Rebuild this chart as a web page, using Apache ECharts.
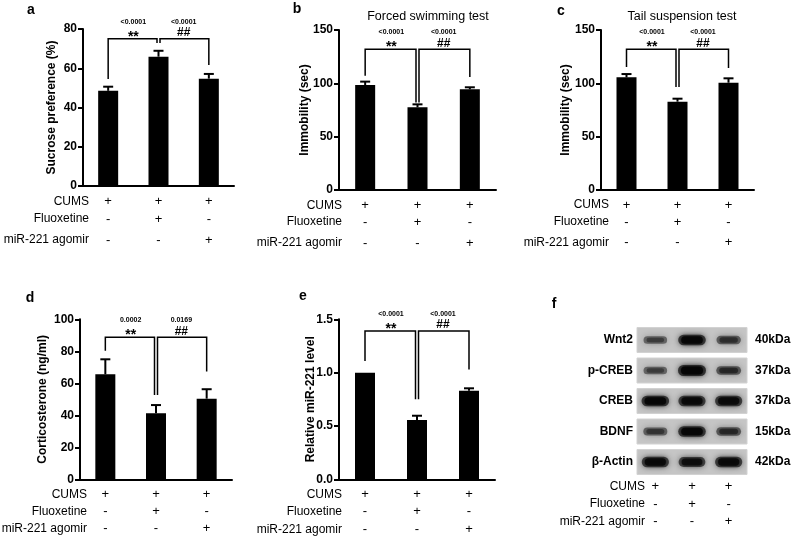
<!DOCTYPE html>
<html><head><meta charset="utf-8">
<script src="https://cdn.jsdelivr.net/npm/echarts@6/dist/echarts.min.js"></script>
<style>html,body{margin:0;padding:0;background:#fff}#c{width:800px;height:540px}</style>
</head><body><div id="c"></div>
<script>
// ---------- data ----------
const groups = ['G1', 'G2', 'G3'];
const cums = ['+', '+', '+'];
const fluoxetine = ['-', '+', '-'];
const agomir = ['-', '-', '+'];
const rowNames = ['CUMS', 'Fluoxetine', 'miR-221 agomir'];

const sucroseMean = [48.5, 65.9, 54.7];
const sucroseSem = [2.1, 3.0, 2.4];
const fstMean = [98.4, 77.5, 94.4];
const fstSem = [3.2, 2.8, 1.9];
const tstMean = [105.6, 82.8, 100.6];
const tstSem = [3.1, 2.8, 4.1];
const corticoMean = [65.6, 41.3, 50.4];
const corticoSem = [9.4, 5.1, 5.9];
const mirMean = [1.0, 0.556, 0.83];
const mirSem = [0, 0.04, 0.023];

// significance brackets: [top, leftLeg, midLegLeft, midLegRight, rightLeg] (data units)
const sucroseBracket = [75, 54.5, 72.9, 72.9, 61.7];
const fstBracket = [132, 107, 82, 82, 106];
const tstBracket = [132, 115.3, 96.6, 96.6, 114.4];
const corticoBracket = [88.75, 80.4, 52.7, 52.7, 67.3];
const mirBracket = [1.39, 1.11, 0.75, 0.75, 1.03];
const sucroseP = ['<0.0001', '<0.0001'];
const fstP = ['<0.0001', '<0.0001'];
const tstP = ['<0.0001', '<0.0001'];
const corticoP = ['0.0002', '0.0169'];
const mirP = ['<0.0001', '<0.0001'];
const sigMarks = ['**', '##'];

// western blot (relative band density per lane)
const proteins = ['Wnt2', 'p-CREB', 'CREB', 'BDNF', 'β-Actin'];
const kDa = ['40kDa', '37kDa', '37kDa', '15kDa', '42kDa'];
const wnt2Band = [0.45, 0.95, 0.55];
const pcrebBand = [0.45, 1.0, 0.6];
const crebBand = [0.95, 0.9, 0.9];
const bdnfBand = [0.5, 0.95, 0.6];
const actinBand = [0.9, 0.85, 0.9];

// ---------- layout / style ----------
const FONT = "'Liberation Sans', Arial, Helvetica, sans-serif";
const signs = [cums, fluoxetine, agomir];

const panels = [
  {grid: {left: 83, top: 29, width: 151, height: 157}, max: 80, interval: 20, yName: 'Sucrose preference (%)', nameGap: 25, rowGap: -6, rowOff: [15.5, 33, 54], mean: sucroseMean, sem: sucroseSem, br: sucroseBracket, p: sucroseP},
  {grid: {left: 339, top: 30, width: 157, height: 160}, max: 150, interval: 50, yName: 'Immobility (sec)', nameGap: 28, rowGap: -3, rowOff: [15.5, 32, 53], mean: fstMean, sem: fstSem, br: fstBracket, p: fstP},
  {grid: {left: 601, top: 30, width: 153, height: 160}, max: 150, interval: 50, yName: 'Immobility (sec)', nameGap: 29, rowGap: -8, rowOff: [15, 32, 52.5], mean: tstMean, sem: tstSem, br: tstBracket, p: tstP},
  {grid: {left: 80, top: 319.3, width: 152, height: 160}, max: 100, interval: 20, yName: 'Corticosterone (ng/ml)', nameGap: 31, rowGap: -7, rowOff: [15.5, 32.5, 49.5], mean: corticoMean, sem: corticoSem, br: corticoBracket, p: corticoP},
  {grid: {left: 339, top: 319.3, width: 156, height: 160}, max: 1.5, interval: 0.5, yName: 'Relative miR-221 level', nameGap: 22, rowGap: -3, rowOff: [15.5, 32.5, 50.5], mean: mirMean, sem: mirSem, br: mirBracket, p: mirP, fmt: v => v.toFixed(1)}
];
const blotGrid = {left: 637, top: 324.75, width: 110, height: 152.5};
const blotRowOff = [9.5, 26.8, 44.5];

const grids = [], xAxes = [], yAxes = [], series = [], graphic = [];

function text(t, x, y, size, weight, align) {
  return {type: 'text', x: x, y: y, silent: true, style: {text: t, fontSize: size, fontWeight: weight, fontFamily: FONT, fill: '#000', align: align || 'center', verticalAlign: 'middle'}};
}

function rowAxes(gi, g, offsets, gap) {
  for (let r = 0; r < 3; r++) {
    xAxes.push({
      type: 'category', gridIndex: gi, data: groups, position: 'bottom', offset: offsets[r],
      axisLine: {show: false}, axisTick: {show: false},
      axisLabel: {interval: 0, margin: 0, verticalAlign: 'middle', fontSize: 13, color: '#000', fontFamily: FONT,
        formatter: (v, i) => signs[r][i]}
    });
    graphic.push(text(rowNames[r], g.left - gap, g.top + g.height + offsets[r], 12, 'normal', 'right'));
  }
}

function errRender(params, api) {
  const idx = api.value(0), m = api.value(1), s = api.value(2);
  if (!(s > 0)) return {type: 'group', children: []};
  const p = api.coord([idx, m]), q = api.coord([idx, m + s]);
  return {type: 'group', children: [
    {type: 'line', shape: {x1: p[0], y1: p[1], x2: q[0], y2: q[1]}, style: {stroke: '#000', lineWidth: 2}},
    {type: 'line', shape: {x1: q[0] - 5, y1: q[1], x2: q[0] + 5, y2: q[1]}, style: {stroke: '#000', lineWidth: 2}}
  ]};
}

function bracketRender(pvals) {
  return function (params, api) {
    const i = params.dataIndex;
    const a = api.coord([api.value(0), api.value(2)]);
    const b = api.coord([api.value(1), api.value(2)]);
    const yTop = a[1];
    const ya = api.coord([0, api.value(3)])[1];
    const yb = api.coord([0, api.value(4)])[1];
    const xa = a[0] + (i === 0 ? 0 : 1.5);
    const xb = b[0] + (i === 0 ? -1.5 : 0);
    const cx = (a[0] + b[0]) / 2;
    const mark = sigMarks[i];
    const star = mark.indexOf('*') >= 0;
    return {type: 'group', children: [
      {type: 'polyline', shape: {points: [[xa, ya], [xa, yTop], [xb, yTop], [xb, yb]]}, style: {stroke: '#000', lineWidth: 1.5, fill: 'none'}},
      {type: 'text', x: cx, y: yTop - 17, style: {text: pvals[i], fontSize: 7, fontWeight: 'bold', fontFamily: FONT, fill: '#000', align: 'center', verticalAlign: 'middle'}},
      {type: 'text', x: cx, y: yTop - (star ? 2 : 6), style: {text: mark, fontSize: star ? 14 : 12, fontWeight: 'bold', fontFamily: FONT, fill: '#000', align: 'center', verticalAlign: 'middle'}}
    ]};
  };
}

panels.forEach((p, gi) => {
  grids.push(Object.assign({containLabel: false, outerBoundsMode: 'none'}, p.grid));
  const mainX = xAxes.length;
  xAxes.push({
    type: 'category', gridIndex: gi, data: groups, position: 'bottom',
    axisLine: {onZero: false, lineStyle: {color: '#000', width: 2}},
    axisTick: {alignWithLabel: true, length: 5, lineStyle: {color: '#000', width: 2}},
    axisLabel: {show: false}
  });
  rowAxes(gi, p.grid, p.rowOff, p.rowGap);
  yAxes.push({
    type: 'value', gridIndex: gi, min: 0, max: p.max, interval: p.interval, splitLine: {show: false},
    axisLine: {show: true, lineStyle: {color: '#000', width: 2}},
    axisTick: {show: true, length: 5, lineStyle: {color: '#000', width: 2}},
    axisLabel: {color: '#000', fontWeight: 'bold', fontSize: 12, fontFamily: FONT, margin: 6, formatter: p.fmt},
    name: p.yName, nameLocation: 'middle', nameGap: p.nameGap, nameRotate: 90, nameMoveOverlap: false,
    nameTextStyle: {color: '#000', fontWeight: 'bold', fontSize: 12, fontFamily: FONT}
  });
  series.push({type: 'bar', xAxisIndex: mainX, yAxisIndex: gi, data: p.mean, barWidth: 20, itemStyle: {color: '#000'}, silent: true});
  series.push({type: 'custom', xAxisIndex: mainX, yAxisIndex: gi, z: 3, encode: {x: 0, y: 1},
    data: p.mean.map((m, i) => [i, m, p.sem[i]]), renderItem: errRender, silent: true});
  series.push({type: 'custom', xAxisIndex: mainX, yAxisIndex: gi, z: 4, encode: {x: [0, 1], y: [2, 3, 4]},
    data: [[0, 1, p.br[0], p.br[1], p.br[2]], [1, 2, p.br[0], p.br[3], p.br[4]]],
    renderItem: bracketRender(p.p), silent: true});
});

// ---------- blot panel ----------
const bgi = panels.length;
grids.push(Object.assign({containLabel: false, outerBoundsMode: 'none'}, blotGrid));
const blotX = xAxes.length;
xAxes.push({type: 'category', gridIndex: bgi, data: groups, axisLine: {show: false}, axisTick: {show: false}, axisLabel: {show: false}});
rowAxes(bgi, blotGrid, blotRowOff, -8);
const blotY = yAxes.length;
yAxes.push({type: 'category', gridIndex: bgi, data: proteins, inverse: true, position: 'left',
  axisLine: {show: false}, axisTick: {show: false},
  axisLabel: {color: '#000', fontWeight: 'bold', fontSize: 12, fontFamily: FONT, margin: 4}});
yAxes.push({type: 'category', gridIndex: bgi, data: proteins, inverse: true, position: 'right',
  axisLine: {show: false}, axisTick: {show: false},
  axisLabel: {color: '#000', fontWeight: 'bold', fontSize: 12, fontFamily: FONT, margin: 8, align: 'left', formatter: (v, i) => kDa[i]}});

series.push({type: 'custom', xAxisIndex: blotX, yAxisIndex: blotY, z: 1, silent: true,
  data: proteins.map((p, i) => [0, i]),
  renderItem: function (params, api) {
    const c = api.coord([0, api.value(1)]);
    const cs = params.coordSys;
    return {type: 'rect', shape: {x: cs.x, y: c[1] - 12.5, width: cs.width, height: 25}, style: {fill: '#c5c5c5', stroke: '#d2d2d2', lineWidth: 1}};
  }});

const bands = [wnt2Band, pcrebBand, crebBand, bdnfBand, actinBand];
const bandData = [];
bands.forEach((row, r) => row.forEach((d, l) => bandData.push([l, r, d])));
series.push({type: 'custom', xAxisIndex: blotX, yAxisIndex: blotY, z: 2, silent: true,
  data: bandData,
  renderItem: function (params, api) {
    const d = api.value(2);
    const c = api.coord([api.value(0), api.value(1)]);
    const w = 20 + 8 * d, h = 5 + 6 * d;
    const outer = 'rgba(25,25,25,' + (0.3 + 0.45 * d).toFixed(3) + ')';
    const inner = 'rgba(5,5,5,' + (0.2 + 0.75 * d * d).toFixed(3) + ')';
    return {type: 'group', children: [
      {type: 'rect', shape: {x: c[0] - w / 2, y: c[1] - h / 2, width: w, height: h, r: h / 2},
        style: {fill: outer, shadowBlur: 6, shadowColor: outer}},
      {type: 'rect', shape: {x: c[0] - w / 2 + 3, y: c[1] - h / 2 + 1.5, width: w - 6, height: Math.max(h - 3, 1), r: h / 2},
        style: {fill: inner, shadowBlur: 4, shadowColor: inner}}
    ]};
  }});

// ---------- texts ----------
graphic.push(
  text('a', 31, 10, 14, 'bold'), text('b', 297, 9, 14, 'bold'), text('c', 561, 11, 14, 'bold'),
  text('d', 30, 298, 14, 'bold'), text('e', 303, 296, 14, 'bold'), text('f', 554, 304, 14, 'bold'),
  text('Forced swimming test', 428, 17, 12.5, 'normal'),
  text('Tail suspension test', 682, 17, 12.5, 'normal')
);

const chart = echarts.init(document.getElementById('c'), null, {renderer: 'canvas'});
chart.setOption({
  animation: false, backgroundColor: '#fff',
  grid: grids, xAxis: xAxes, yAxis: yAxes, series: series, graphic: graphic
});
</script></body></html>
